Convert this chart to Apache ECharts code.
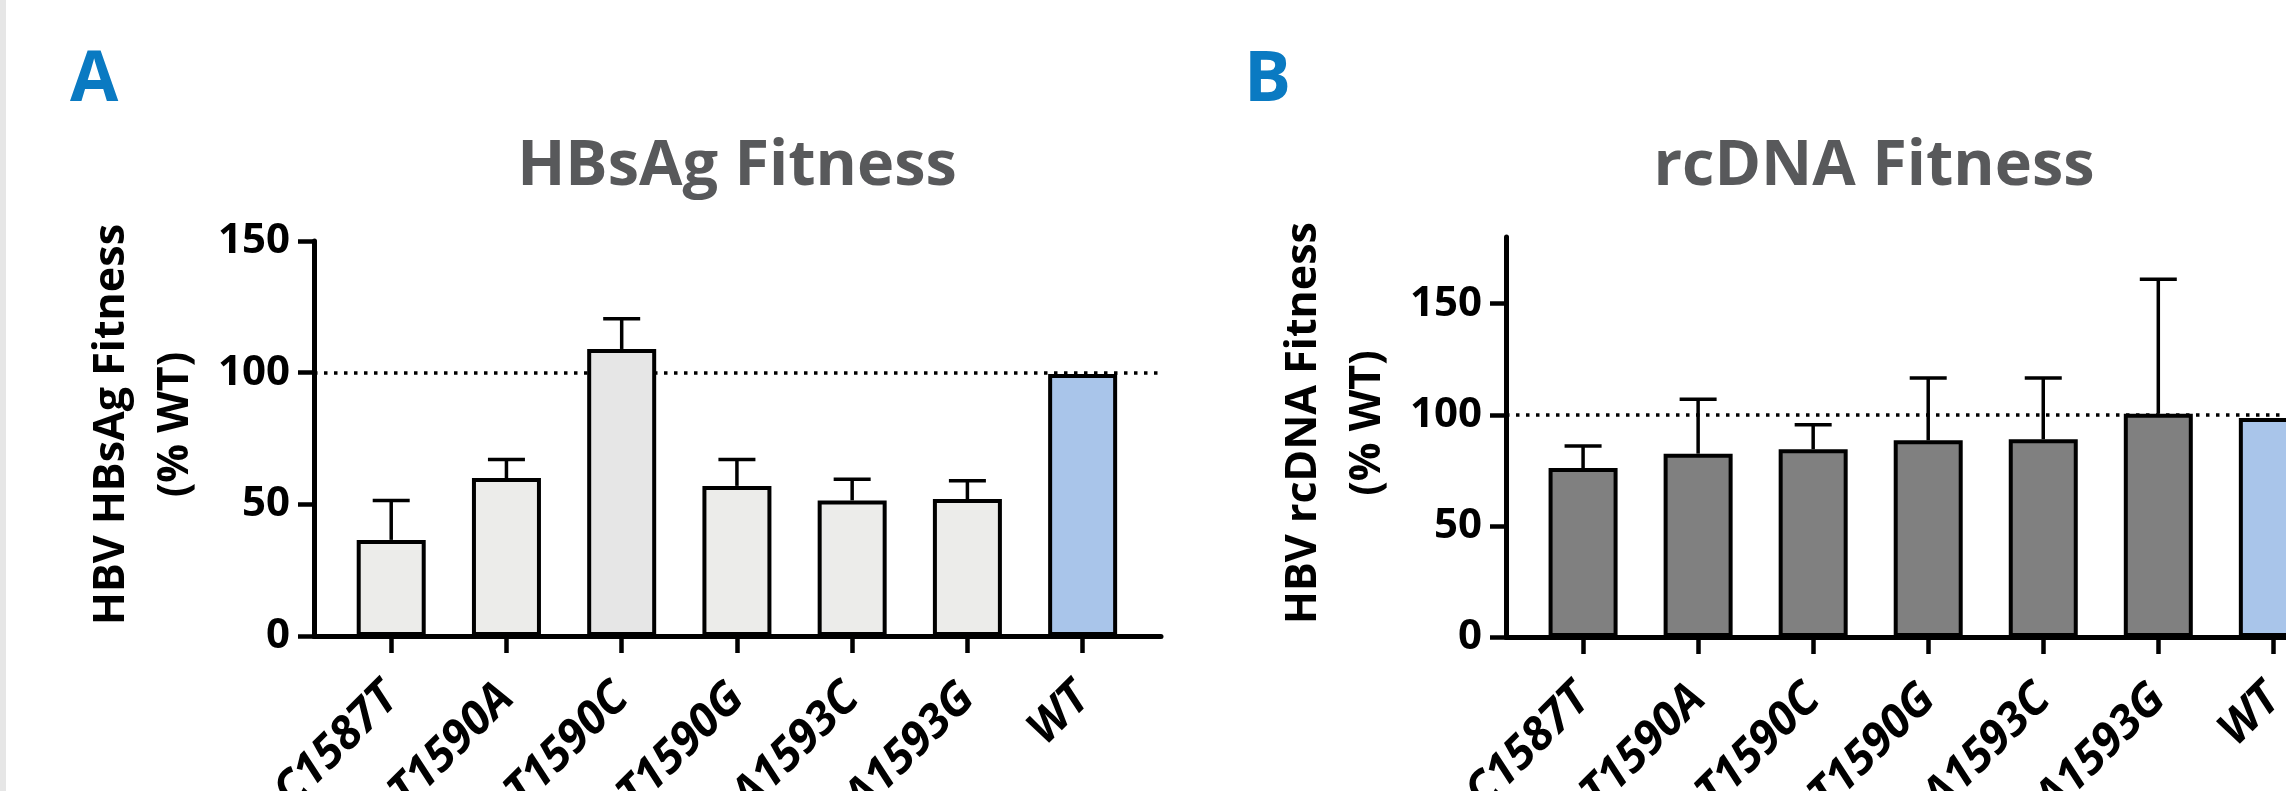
<!DOCTYPE html>
<html>
<head>
<meta charset="utf-8">
<title>HBsAg and rcDNA Fitness</title>
<script src="https://cdn.jsdelivr.net/npm/echarts@6/dist/echarts.min.js"></script>
<style>
  html, body { margin: 0; padding: 0; background: #fff; }
  #chart { width: 2286px; height: 791px; }
  .edge { position: absolute; left: 0; top: 0; width: 6px; height: 791px; background: #e6e6e6; }
</style>
</head>
<body>
<div id="chart"></div>
<div class="edge"></div>
<script>
// values (% of WT)
const categories = ['C1587T', 'T1590A', 'T1590C', 'T1590G', 'A1593C', 'A1593G', 'WT'];
const hbsagMean = [36.5, 60, 109, 57, 51.5, 52, 99.5];
const hbsagUpper = [51.5, 67, 120.5, 67, 59.5, 59, null];
const rcdnaMean = [76, 82.5, 84.5, 88.5, 89, 100.5, 98.5];
const rcdnaUpper = [86, 107, 95.5, 116.5, 116.5, 161, null];
const yTicks = [0, 50, 100, 150];
const refLine = 100;

const hbsagColors = ['#ECECEA', '#ECECEA', '#E6E6E6', '#ECECEA', '#ECECEA', '#ECECEA', '#A9C5EA'];
const rcdnaColors = ['#808080', '#808080', '#808080', '#808080', '#808080', '#808080', '#A9C5EA'];

const FONT = '"Open Sans", "Noto Sans", sans-serif';
const catTicks = categories.map((c, i) => i);

const chart = echarts.init(document.getElementById('chart'));

// one panel = one grid; x is a value axis so the axis line can run past the bars
const buildPanel = (idx, yMax, xMax, mean, upper, colors, yName) => {
  const xAxis = {
    type: 'value',
    gridIndex: idx,
    min: -0.67,
    max: xMax,
    axisLine: { show: true, onZero: false, lineStyle: { color: '#000', width: 5 } },
    axisTick: { show: true, length: 17, customValues: catTicks, lineStyle: { color: '#000', width: 4.5 } },
    axisLabel: {
      customValues: catTicks,
      formatter: v => categories[Math.round(v)],
      rotate: 45,
      margin: 55,
      fontSize: 46,
      fontWeight: 'bold',
      fontStyle: 'italic',
      fontFamily: FONT,
      color: '#000'
    },
    splitLine: { show: false }
  };
  const yAxis = {
    type: 'value',
    gridIndex: idx,
    min: 0,
    max: yMax,
    axisLine: { show: true, onZero: false, lineStyle: { color: '#000', width: 5 } },
    axisTick: { show: true, length: 16, customValues: yTicks, lineStyle: { color: '#000', width: 4.5 } },
    axisLabel: {
      customValues: yTicks,
      margin: 24,
      fontSize: 42,
      fontWeight: 'bold',
      fontFamily: FONT,
      color: '#000'
    },
    splitLine: { show: false },
    name: yName,
    nameLocation: 'middle',
    nameRotate: 90,
    nameGap: 106,
    nameTextStyle: {
      fontSize: 43,
      fontWeight: 'bold',
      fontFamily: FONT,
      color: '#000',
      lineHeight: 64,
      padding: [0, 0, 0, 28]
    }
  };
  const bars = {
    type: 'bar',
    xAxisIndex: idx,
    yAxisIndex: idx,
    barWidth: 69,
    data: mean.map((v, i) => ({ value: [i, v], itemStyle: { color: colors[i] } })),
    itemStyle: { borderColor: '#000', borderWidth: 4 },
    markLine: {
      z: 1,
      silent: true,
      symbol: 'none',
      label: { show: false },
      lineStyle: { color: '#000', width: 3.5, type: [3.5, 6.5] },
      data: [{ yAxis: refLine }]
    }
  };
  const errors = {
    type: 'custom',
    xAxisIndex: idx,
    yAxisIndex: idx,
    z: 3,
    data: upper.map((u, i) => [i, mean[i], u]).filter(d => d[2] != null),
    renderItem: (params, api) => {
      const base = api.coord([api.value(0), api.value(1)]);
      const top = api.coord([api.value(0), api.value(2)]);
      const style = { stroke: '#000', lineWidth: 3.5 };
      return {
        type: 'group',
        children: [
          { type: 'line', shape: { x1: base[0], y1: base[1], x2: top[0], y2: top[1] }, style },
          { type: 'line', shape: { x1: top[0] - 18.5, y1: top[1], x2: top[0] + 18.5, y2: top[1] }, style }
        ]
      };
    }
  };
  return { xAxis, yAxis, series: [bars, errors] };
};

const panelA = buildPanel(0, 150, 6.68, hbsagMean, hbsagUpper, hbsagColors, 'HBV HBsAg Fitness\n(% WT)');
const panelB = buildPanel(1, 180, 6.11, rcdnaMean, rcdnaUpper, rcdnaColors, 'HBV rcDNA Fitness\n(% WT)');

const titleStyle = (text, size, color) => ({
  text,
  fontSize: size,
  fontWeight: 'bold',
  fontFamily: FONT,
  fill: color,
  verticalAlign: 'middle'
});

const option = {
  animation: false,
  backgroundColor: '#fff',
  grid: [
    { left: 314, top: 241, width: 847, height: 395, containLabel: false, outerBoundsMode: 'none' },
    { left: 1506, top: 237, width: 780, height: 400, containLabel: false, outerBoundsMode: 'none' }
  ],
  xAxis: [panelA.xAxis, panelB.xAxis],
  yAxis: [panelA.yAxis, panelB.yAxis],
  series: [...panelA.series, ...panelB.series],
  graphic: [
    { type: 'text', x: 70, y: 81, style: { ...titleStyle('A', 70, '#0A7AC2'), align: 'left' } },
    { type: 'text', x: 1244, y: 81, style: { ...titleStyle('B', 70, '#0A7AC2'), align: 'left' } },
    { type: 'text', x: 737, y: 167, style: { ...titleStyle('HBsAg Fitness', 63, '#58595B'), align: 'center' } },
    { type: 'text', x: 1874, y: 167, style: { ...titleStyle('rcDNA Fitness', 63, '#58595B'), align: 'center' } }
  ]
};

chart.setOption(option);
window.addEventListener('resize', () => chart.resize());
</script>
</body>
</html>
